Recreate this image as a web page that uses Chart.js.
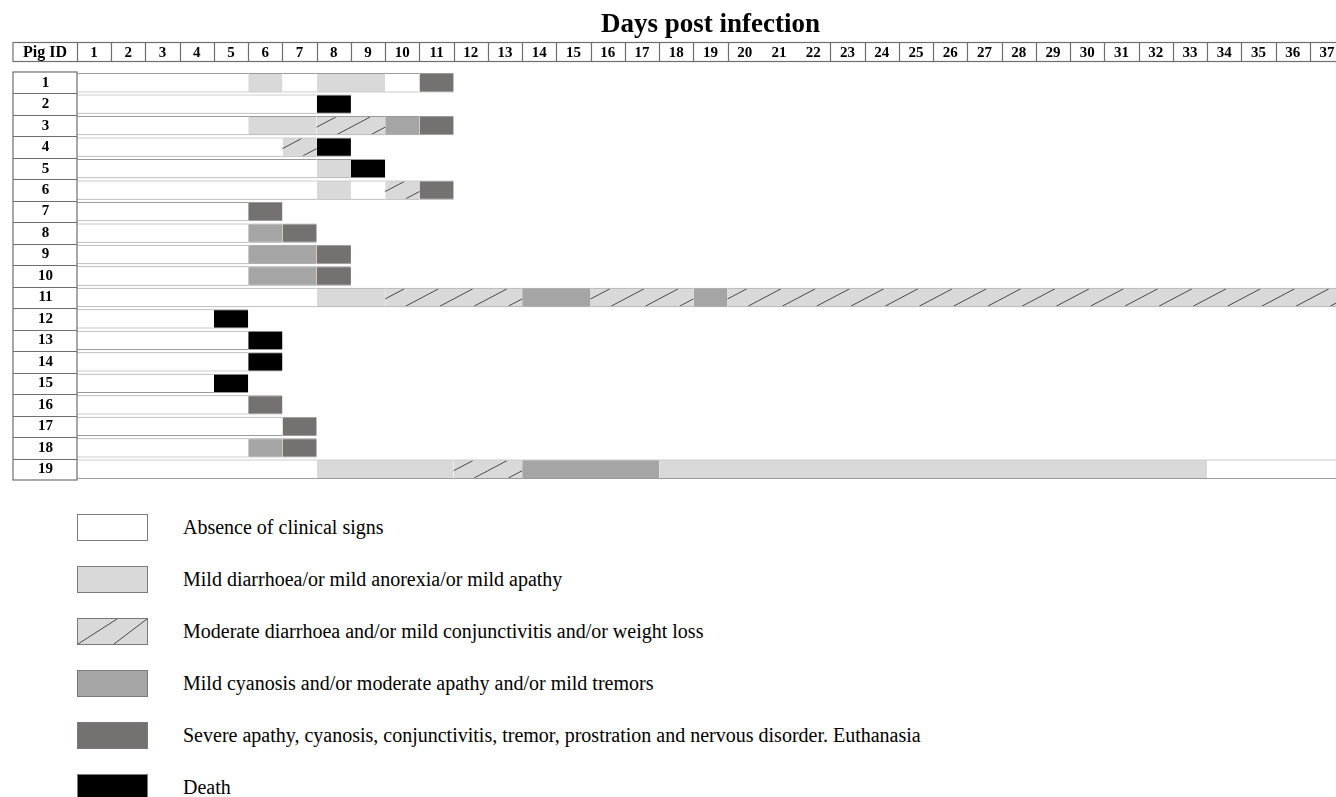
<!DOCTYPE html>
<html>
<head>
<meta charset="utf-8">
<script src="https://cdn.jsdelivr.net/npm/chart.js@4.4.0/dist/chart.umd.min.js"></script>
<style>
  body { margin: 0; background: #fff; overflow: hidden; font-family: 'Liberation Serif', 'Times New Roman', serif; }
  #wrap { position: relative; width: 1344px; height: 482px; }
  #chart { display: block; }
  #legend { position: absolute; left: 77px; top: 501px; }
  .row { height: 52px; display: flex; align-items: center; }
  .row svg { flex: none; }
  .row span { margin-left: 35px; font-size: 20px; color: #000; white-space: nowrap; }
</style>
</head>
<body>
<div id="wrap"><canvas id="chart" width="1344" height="482"></canvas></div>
<div id="legend"></div>
<script>
// day columns and pig rows
const dayLabels = ['1','2','3','4','5','6','7','8','9','10','11','12','13','14','15','16','17','18','19',
  '20','21','22','23','24','25','26','27','28','29','30','31','32','33','34','35','36','37'];
const pigIds = ['1','2','3','4','5','6','7','8','9','10','11','12','13','14','15','16','17','18','19'];

// N none, L mild, H moderate (hatched), C mild cyanosis, S severe/euthanasia, D death
const stateKeys = ['N', 'L', 'H', 'C', 'S', 'D'];
const stateNames = [
  'Absence of clinical signs',
  'Mild diarrhoea/or mild anorexia/or mild apathy',
  'Moderate diarrhoea and/or mild conjunctivitis and/or weight loss',
  'Mild cyanosis and/or moderate apathy and/or mild tremors',
  'Severe apathy, cyanosis, conjunctivitis, tremor, prostration and nervous disorder. Euthanasia',
  'Death'
];

// clinical course of each pig: [state, number of days]
const courses = [
  [['N',5],['L',1],['N',1],['L',2],['N',1],['S',1]],
  [['N',7],['D',1]],
  [['N',5],['L',2],['H',2],['C',1],['S',1]],
  [['N',6],['H',1],['D',1]],
  [['N',7],['L',1],['D',1]],
  [['N',7],['L',1],['N',1],['H',1],['S',1]],
  [['N',5],['S',1]],
  [['N',5],['C',1],['S',1]],
  [['N',5],['C',2],['S',1]],
  [['N',5],['C',2],['S',1]],
  [['N',7],['L',2],['H',4],['C',2],['H',3],['C',1],['H',18]],
  [['N',4],['D',1]],
  [['N',5],['D',1]],
  [['N',5],['D',1]],
  [['N',4],['D',1]],
  [['N',5],['S',1]],
  [['N',6],['S',1]],
  [['N',5],['C',1],['S',1]],
  [['N',7],['L',4],['H',2],['C',4],['L',16],['N',4]]
];

const fills = { N: '#ffffff', L: '#d9d9d9', H: '#d9d9d9', C: '#a5a5a5', S: '#767171', D: '#000000' };
const serif = 'Liberation Serif';

// one stacked dataset per run position
const maxRuns = Math.max(...courses.map(c => c.length));
const datasets = [];
for (let s = 0; s < maxRuns; s++) {
  datasets.push({
    data: courses.map(c => c[s] ? c[s][1] : null),
    states: courses.map(c => c[s] ? c[s][0] : null),
    backgroundColor: courses.map(c => c[s] ? fills[c[s][0]] : 'transparent'),
    borderColor: '#9a9a9a',
    borderWidth: { top: 1, bottom: 1, left: 0, right: 0 },
    borderSkipped: false,
    barPercentage: 0.9,
    categoryPercentage: 1,
    stack: 'course'
  });
}

// scales keep no extra room for their outer labels
function noPadding(scale) {
  scale.paddingTop = scale.paddingBottom = scale.paddingLeft = scale.paddingRight = 0;
}

// diagonal lines on the moderate segments
const hatchPlugin = {
  id: 'hatch',
  afterDatasetsDraw(chart) {
    const ctx = chart.ctx, xs = chart.scales.x;
    const colW = xs.getPixelForValue(1) - xs.getPixelForValue(0);
    ctx.save();
    ctx.strokeStyle = '#4a4a4a';
    ctx.lineWidth = 1;
    chart.data.datasets.forEach((ds, i) => {
      chart.getDatasetMeta(i).data.forEach((bar, j) => {
        if (ds.states[j] !== 'H') return;
        const p = bar.getProps(['x', 'y', 'base', 'height'], true);
        const left = Math.min(p.x, p.base), right = Math.max(p.x, p.base);
        const top = p.y - p.height / 2 + 1, bottom = p.y + p.height / 2 - 1;
        ctx.save();
        ctx.beginPath();
        ctx.rect(left, top, right - left, bottom - top);
        ctx.clip();
        const first = Math.floor(xs.getValueForPixel(left)) - 2;
        const last = Math.ceil(xs.getValueForPixel(right)) + 1;
        ctx.beginPath();
        for (let k = first; k <= last; k++) {
          const x0 = xs.getPixelForValue(k) + colW * 0.6;
          ctx.moveTo(x0, bottom);
          ctx.lineTo(x0 + colW * 0.96, top);
        }
        ctx.stroke();
        ctx.restore();
      });
    });
    ctx.restore();
  }
};

// table borders: header row and Pig ID column
const tablePlugin = {
  id: 'table',
  afterDraw(chart) {
    const ctx = chart.ctx, xs = chart.scales.x, ys = chart.scales.y;
    const left = ys.left, right = xs.getPixelForValue(dayLabels.length);
    const hTop = Math.round(xs.top) + 0.5, hBot = hTop + 19;
    ctx.save();
    ctx.strokeStyle = '#6e6e6e';
    ctx.lineWidth = 1.2;
    ctx.strokeRect(left, hTop, right - left, hBot - hTop);
    ctx.beginPath();
    for (let k = 0; k < dayLabels.length; k++) {
      if (k === 20 || k === 21) continue; // no separators around 21 in the original
      const x = Math.round(xs.getPixelForValue(k)) + 0.5;
      ctx.moveTo(x, hTop);
      ctx.lineTo(x, hBot);
    }
    ctx.stroke();
    ctx.fillStyle = '#000';
    ctx.font = 'bold 16px "' + serif + '"';
    ctx.textAlign = 'center';
    ctx.textBaseline = 'middle';
    ctx.fillText('Pig ID', (ys.left + ys.right) / 2, (hTop + hBot) / 2 + 1);

    const pitch = ys.getPixelForValue(1) - ys.getPixelForValue(0);
    const top = ys.getPixelForValue(0) - pitch / 2;
    ctx.strokeRect(left, top, ys.right - left, pitch * pigIds.length);
    ctx.beginPath();
    for (let i = 1; i < pigIds.length; i++) {
      const y = Math.round(top + pitch * i) + 0.5;
      ctx.moveTo(left, y);
      ctx.lineTo(ys.right, y);
    }
    ctx.stroke();
    ctx.restore();
  }
};

new Chart(document.getElementById('chart'), {
  type: 'bar',
  data: { labels: pigIds, datasets: datasets },
  plugins: [hatchPlugin, tablePlugin],
  options: {
    indexAxis: 'y',
    responsive: false,
    animation: false,
    layout: { padding: { left: 13, top: 0, right: 0, bottom: 2 } },
    plugins: {
      legend: { display: false },
      tooltip: { enabled: false },
      title: {
        display: true,
        text: 'Days post infection',
        fullSize: false,
        color: '#000',
        font: { family: serif, size: 27, weight: 'bold' },
        padding: { top: 9, bottom: 1 }
      }
    },
    scales: {
      x: {
        type: 'linear',
        position: 'top',
        stacked: true,
        min: 0,
        max: dayLabels.length,
        grid: { display: false, drawTicks: false },
        border: { display: false },
        afterBuildTicks(scale) {
          scale.ticks = dayLabels.map((d, i) => ({ value: i + 0.5 }));
        },
        afterFit(scale) {
          scale.height = 29.6;
          noPadding(scale);
        },
        ticks: {
          autoSkip: false,
          maxRotation: 0,
          padding: 10,
          color: '#000',
          font: { family: serif, size: 15, weight: 'bold' },
          callback: (v, i) => dayLabels[i]
        }
      },
      y: {
        type: 'category',
        stacked: true,
        grid: { display: false, drawTicks: false },
        border: { display: false },
        afterFit(scale) {
          scale.width = 64;
          noPadding(scale);
        },
        ticks: {
          autoSkip: false,
          crossAlign: 'center',
          padding: 24,
          color: '#000',
          font: { family: serif, size: 15, weight: 'bold' }
        }
      }
    }
  }
});

// legend below the table
const legend = document.getElementById('legend');
stateKeys.forEach((k, i) => {
  const row = document.createElement('div');
  row.className = 'row';
  const lines = k === 'H'
    ? '<line x1="1" y1="26" x2="40" y2="1" stroke="#4a4a4a"/><line x1="37" y1="26" x2="70" y2="1" stroke="#4a4a4a"/>'
    : '';
  row.innerHTML = '<svg width="71" height="27"><rect x="0.5" y="0.5" width="70" height="26" fill="' + fills[k] +
    '" stroke="#7a7a7a"/>' + lines + '</svg><span>' + stateNames[i] + '</span>';
  legend.appendChild(row);
});
</script>
</body>
</html>
